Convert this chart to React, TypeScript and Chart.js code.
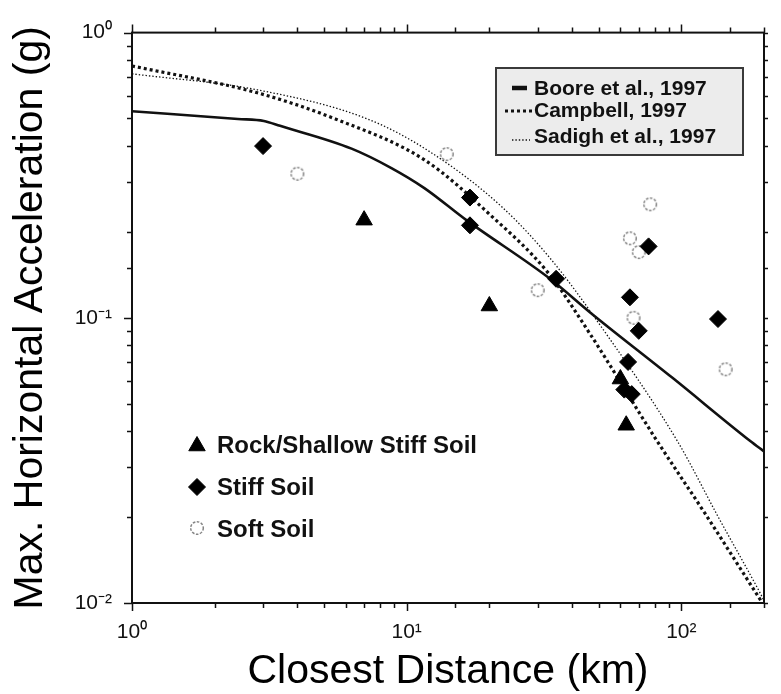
import React, { useEffect, useRef } from 'react';
import { Chart, registerables } from 'chart.js';
import { drawPoint } from 'chart.js/helpers';

Chart.register(...registerables);

const FONT = "'Liberation Sans', Arial, Helvetica, sans-serif";

// Attenuation relations: closest distance (km) vs. peak horizontal acceleration (g)
const booreDist = [1, 2.43, 3.02, 3.46, 6.3, 8.8, 11.6, 16.5, 33.6, 46.8, 92.6, 178.7, 200];
const booreAcc = [0.53, 0.498, 0.49, 0.471, 0.392, 0.335, 0.285, 0.22, 0.136, 0.104, 0.0617, 0.0369, 0.034];
const campbellDist = [1, 2.86, 5.5, 11.6, 20, 32.7, 46.8, 81, 122, 191, 200];
const campbellAcc = [0.764, 0.615, 0.498, 0.358, 0.231, 0.144, 0.087, 0.0374, 0.0206, 0.0105, 0.0098];
const sadighDist = [1, 2.86, 7.2, 12, 22.3, 33.6, 50.7, 97, 136, 194, 200];
const sadighAcc = [0.717, 0.63, 0.498, 0.385, 0.244, 0.16, 0.094, 0.0368, 0.0201, 0.0108, 0.0102];

// Recorded peak accelerations grouped by site class
const rockDist = [7, 20, 60, 63];
const rockAcc = [0.22, 0.11, 0.061, 0.042];
const stiffDist = [3, 17, 17, 35, 65, 76, 70, 136, 64, 62, 66];
const stiffAcc = [0.4, 0.264, 0.211, 0.137, 0.118, 0.178, 0.09, 0.099, 0.07, 0.056, 0.054];
const softDist = [4, 14, 30, 77, 65, 70, 67, 145];
const softAcc = [0.32, 0.375, 0.125, 0.25, 0.19, 0.17, 0.1, 0.066];

const modelLabels = ['Boore et al., 1997', 'Campbell, 1997', 'Sadigh et al., 1997'];
const siteLabels = ['Rock/Shallow Stiff Soil', 'Stiff Soil', 'Soft Soil'];

const xTickValues = [1, 10, 100];
const xTickLabels = ['10\u2070', '10\u00b9', '10\u00b2'];
const yTickValues = [0.01, 0.1, 1];
const yTickLabels = ['10\u207b\u00b2', '10\u207b\u00b9', '10\u2070'];

const zip = (xs: number[], ys: number[]) => xs.map((x, i) => ({ x, y: ys[i] }));

const labelFor = (values: number[], labels: string[]) => (v: number | string) => {
  const n = Number(v);
  const i = values.findIndex((t) => Math.abs(Math.log10(t) - Math.log10(n)) < 1e-6);
  return i >= 0 ? labels[i] : '';
};

const isDecade = (v: number) => Math.abs(Math.log10(v) - Math.round(Math.log10(v))) < 1e-6;

// Open circle with a broken outline, used as the soft-soil marker
function makeOpenCircle(): HTMLCanvasElement {
  const c = document.createElement('canvas');
  c.width = 18;
  c.height = 18;
  const g = c.getContext('2d')!;
  g.strokeStyle = '#858585';
  g.lineWidth = 1.5;
  g.setLineDash([2.6, 1.5]);
  g.beginPath();
  g.arc(9, 9, 6.3, 0, Math.PI * 2);
  g.stroke();
  return c;
}

// Plot frame with outward tick marks on all four sides
const framePlugin = {
  id: 'frameTicks',
  afterDraw(chart: any) {
    const { ctx, chartArea: a, scales } = chart;
    ctx.save();
    ctx.strokeStyle = '#111';
    ctx.lineWidth = 1.5;
    ctx.beginPath();
    for (const t of scales.x.ticks) {
      const px = Math.round(scales.x.getPixelForValue(t.value)) + 0.5;
      const len = isDecade(t.value) ? 8 : 5;
      ctx.moveTo(px, a.bottom);
      ctx.lineTo(px, a.bottom + len);
      ctx.moveTo(px, a.top);
      ctx.lineTo(px, a.top - len);
    }
    for (const t of scales.y.ticks) {
      const py = Math.round(scales.y.getPixelForValue(t.value)) + 0.5;
      const len = isDecade(t.value) ? 8 : 5;
      ctx.moveTo(a.left, py);
      ctx.lineTo(a.left - len, py);
      ctx.moveTo(a.right, py);
      ctx.lineTo(a.right + Math.min(len, 4), py);
    }
    ctx.stroke();
    ctx.lineWidth = 2;
    ctx.strokeRect(a.left, a.top, a.right - a.left, a.bottom - a.top);
    ctx.restore();
  },
};

// Model legend box (upper right) and site-class legend (lower left)
const legendPlugin = {
  id: 'keyLegends',
  afterDraw(chart: any) {
    const { ctx } = chart;
    const ds = chart.data.datasets;
    ctx.save();

    ctx.fillStyle = '#ececec';
    ctx.fillRect(496, 68, 247, 87);
    ctx.strokeStyle = '#3a3a3a';
    ctx.lineWidth = 2;
    ctx.strokeRect(496, 68, 247, 87);

    ctx.font = `bold 21px ${FONT}`;
    ctx.textBaseline = 'alphabetic';
    ctx.textAlign = 'left';
    ctx.fillStyle = '#111';
    const rows = [
      { base: 95, lineY: 88, x0: 512, x1: 527 },
      { base: 117, lineY: 111, x0: 505, x1: 533 },
      { base: 143, lineY: 140, x0: 512, x1: 530 },
    ];
    rows.forEach((r, i) => {
      const d = ds[i];
      ctx.save();
      ctx.strokeStyle = '#111';
      ctx.lineWidth = i === 0 ? 4.5 : d.borderWidth;
      ctx.setLineDash(d.borderDash || []);
      ctx.beginPath();
      ctx.moveTo(r.x0, r.lineY);
      ctx.lineTo(r.x1, r.lineY);
      ctx.stroke();
      ctx.restore();
      ctx.fillText(modelLabels[i], 534, r.base);
    });

    ctx.font = `bold 24px ${FONT}`;
    const siteRows = [
      { y: 446, base: 453 },
      { y: 487, base: 495 },
      { y: 528, base: 537 },
    ];
    siteRows.forEach((r, i) => {
      const d = ds[3 + i];
      ctx.save();
      ctx.fillStyle = d.backgroundColor;
      ctx.strokeStyle = d.borderColor;
      ctx.lineWidth = d.borderWidth;
      drawPoint(ctx, { pointStyle: d.pointStyle, radius: d.pointRadius, borderWidth: d.borderWidth, rotation: 0 }, 197, r.y);
      ctx.restore();
      ctx.fillStyle = '#111';
      ctx.fillText(siteLabels[i], 217, r.base);
    });
    ctx.restore();
  },
};

export default function App() {
  const canvasRef = useRef<HTMLCanvasElement | null>(null);

  useEffect(() => {
    const canvas = canvasRef.current;
    if (!canvas) return;
    const openCircle = makeOpenCircle();
    const chart = new Chart(canvas, {
      type: 'scatter',
      data: {
        datasets: [
          {
            label: modelLabels[0],
            data: zip(booreDist, booreAcc),
            showLine: true,
            borderColor: '#111',
            borderWidth: 2.6,
            pointRadius: 0,
            cubicInterpolationMode: 'monotone',
            order: 2,
          },
          {
            label: modelLabels[1],
            data: zip(campbellDist, campbellAcc),
            showLine: true,
            borderColor: '#111',
            borderWidth: 3.2,
            borderDash: [3, 3],
            pointRadius: 0,
            cubicInterpolationMode: 'monotone',
            order: 2,
          },
          {
            label: modelLabels[2],
            data: zip(sadighDist, sadighAcc),
            showLine: true,
            borderColor: '#111',
            borderWidth: 1.3,
            borderDash: [1.4, 2],
            pointRadius: 0,
            cubicInterpolationMode: 'monotone',
            order: 2,
          },
          {
            label: siteLabels[0],
            data: zip(rockDist, rockAcc),
            pointStyle: 'triangle',
            pointRadius: 9.5,
            backgroundColor: '#000',
            borderColor: '#000',
            borderWidth: 1,
            order: 0,
          },
          {
            label: siteLabels[1],
            data: zip(stiffDist, stiffAcc),
            pointStyle: 'rectRot',
            pointRadius: 8.5,
            backgroundColor: '#000',
            borderColor: '#000',
            borderWidth: 1,
            order: 0,
          },
          {
            label: siteLabels[2],
            data: zip(softDist, softAcc),
            pointStyle: openCircle,
            pointRadius: 6.5,
            backgroundColor: 'rgba(255,255,255,0)',
            borderColor: '#858585',
            borderWidth: 1.5,
            order: 0,
          },
        ],
      },
      options: {
        animation: false,
        responsive: false,
        maintainAspectRatio: false,
        layout: { padding: { top: 22, right: 4, left: 0, bottom: 0 } },
        plugins: { legend: { display: false }, tooltip: { enabled: false } },
        scales: {
          x: {
            type: 'logarithmic',
            min: 1,
            max: 200,
            position: 'bottom',
            grid: { display: false, drawTicks: false },
            border: { display: false },
            ticks: {
              autoSkip: false,
              maxRotation: 0,
              padding: 17,
              color: '#111',
              font: { family: FONT, size: 21 },
              callback: labelFor(xTickValues, xTickLabels),
            },
            title: {
              display: true,
              text: 'Closest Distance (km)',
              color: '#000',
              font: { family: FONT, size: 41, lineHeight: 1 },
              padding: { top: 0, bottom: 2 },
            },
            afterFit: (s: any) => {
              s.height = 91;
            },
          },
          y: {
            type: 'logarithmic',
            min: 0.01,
            max: 1,
            position: 'left',
            grid: { display: false, drawTicks: false },
            border: { display: false },
            ticks: {
              autoSkip: false,
              padding: 20,
              color: '#111',
              font: { family: FONT, size: 21 },
              callback: labelFor(yTickValues, yTickLabels),
            },
            title: {
              display: true,
              text: 'Max. Horizontal Acceleration (g)',
              color: '#000',
              font: { family: FONT, size: 41, lineHeight: 1 },
              padding: { top: 10, bottom: 0 },
            },
            afterFit: (s: any) => {
              s.width = 132;
            },
          },
        },
      } as any,
      plugins: [framePlugin, legendPlugin],
    });
    return () => chart.destroy();
  }, []);

  return (
    <div style={{ position: 'absolute', left: 0, top: 0, width: 781, height: 694, background: '#fff' }}>
      <canvas ref={canvasRef} width={781} height={694} style={{ display: 'block', width: 781, height: 694 }} />
    </div>
  );
}
